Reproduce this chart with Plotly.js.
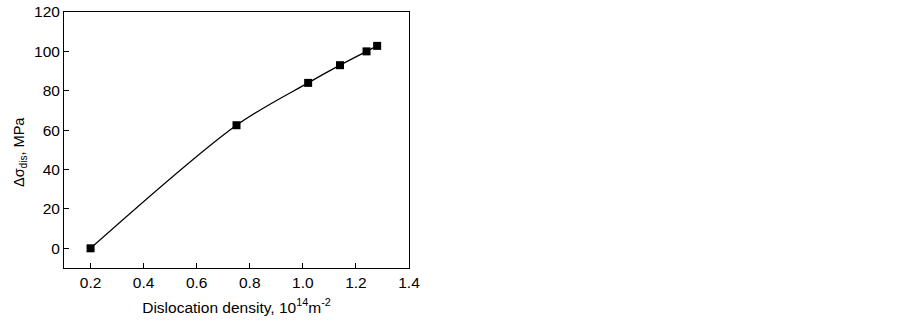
<!DOCTYPE html>
<html>
<head>
<meta charset="utf-8">
<script src="https://cdn.plot.ly/plotly-3.0.1.min.js"></script>
<style>html,body{margin:0;padding:0;background:#fff;}#chart{width:903px;height:322px;}</style>
</head>
<body>
<div id="chart"></div>
<script>
const density = [0.2, 0.75, 1.02, 1.14, 1.24, 1.28];
const stress = [0, 62.5, 84, 93, 100, 102.8];
const xTicks = [0.2, 0.4, 0.6, 0.8, 1.0, 1.2, 1.4];
const yTicks = [0, 20, 40, 60, 80, 100, 120];

const font = {family: 'Arial, "Liberation Sans", sans-serif', size: 15.5, color: '#000'};

Plotly.newPlot('chart', [{
  x: density, y: stress, type: 'scatter', mode: 'lines+markers',
  line: {color: '#000', width: 1.3, shape: 'spline', smoothing: 0.9},
  marker: {symbol: 'square', size: 8, color: '#000'},
  showlegend: false, hoverinfo: 'none'
}], {
  width: 903, height: 322,
  margin: {l: 64, r: 494, t: 12, b: 54},
  paper_bgcolor: '#fff', plot_bgcolor: '#fff',
  font: font,
  xaxis: {
    range: [0.1, 1.4], tickvals: xTicks, ticktext: xTicks.map(v => v.toFixed(1)),
    ticks: 'inside', ticklen: 5, tickwidth: 1, tickcolor: '#000',
    showline: true, linecolor: '#000', linewidth: 1, mirror: true,
    showgrid: false, zeroline: false, tickfont: font,
    title: {text: 'Dislocation density, 10<sup>14</sup>m<sup>-2</sup>', font: font, standoff: 12}
  },
  yaxis: {
    range: [-10, 120], tickvals: yTicks,
    ticks: 'inside', ticklen: 5, tickwidth: 1, tickcolor: '#000',
    showline: true, linecolor: '#000', linewidth: 1, mirror: true,
    showgrid: false, zeroline: false, tickfont: font
  },
  annotations: [{
    text: 'Δσ<sub>dis</sub>, MPa', textangle: -90, showarrow: false,
    xref: 'paper', yref: 'paper', x: 0, y: 0.453, xanchor: 'center', yanchor: 'middle',
    xshift: -44, font: Object.assign({}, font, {size: 14.5})
  }]
}, {staticPlot: true});
</script>
</body>
</html>
